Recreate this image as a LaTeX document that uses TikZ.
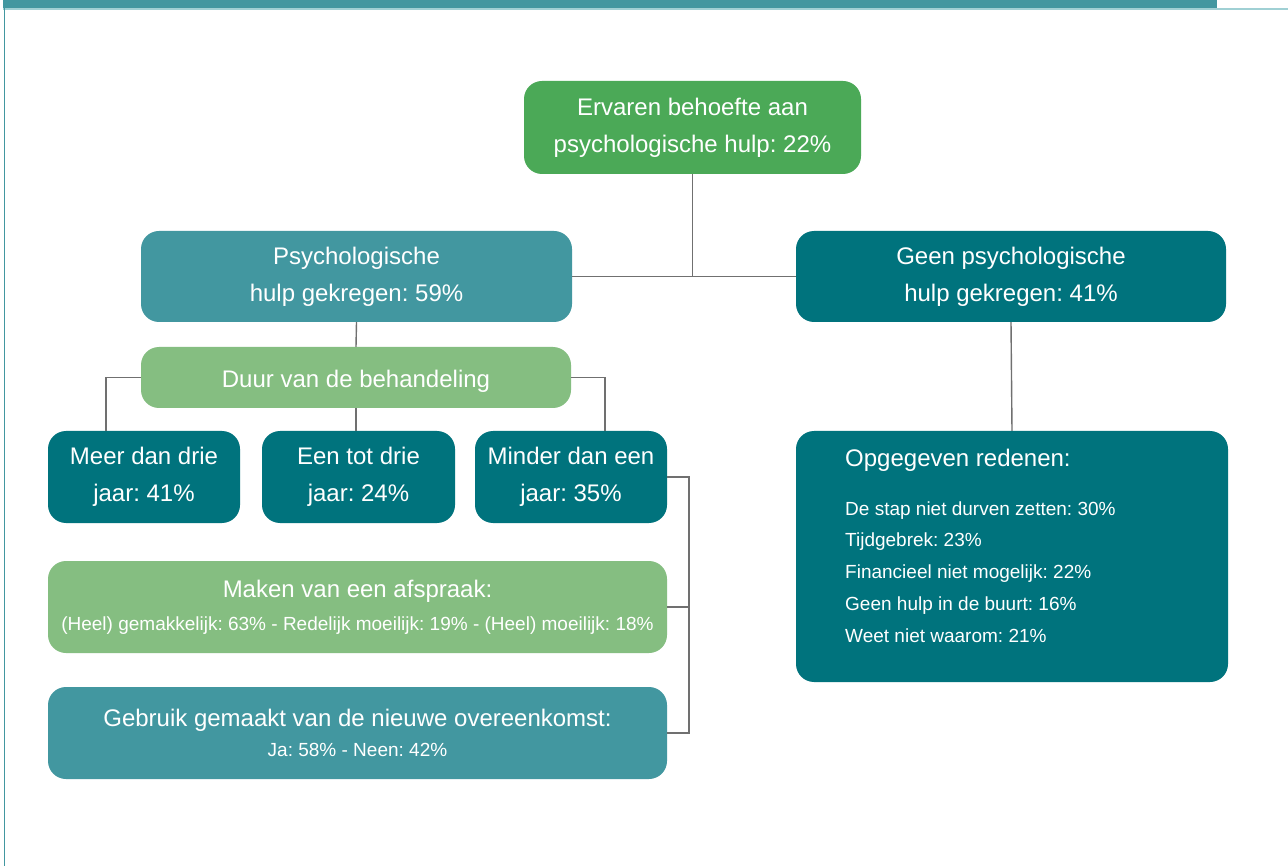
\documentclass[tikz,border=0pt]{standalone}
\usepackage{fontspec}
\setmainfont{Liberation Sans}
\frenchspacing
\usetikzlibrary{positioning,calc}
\definecolor{needgreen}{RGB}{75,169,87}
\definecolor{lightgreen}{RGB}{133,190,129}
\definecolor{midteal}{RGB}{66,151,160}
\definecolor{darkteal}{RGB}{0,115,125}
\definecolor{paleteal}{RGB}{160,208,212}
\definecolor{linkgray}{RGB}{112,112,112}
\newcommand{\bigtxt}{\fontsize{24}{37}\selectfont}
\newcommand{\smalltxt}{\fontsize{19}{31.75}\selectfont}

\begin{document}
\begin{tikzpicture}[x=1pt,y=-1pt,
	box/.style={rounded corners=18pt, text=white, align=center, inner sep=0pt, font=\bigtxt},
	tallbox/.style={box, execute at begin node={\rule{0pt}{24pt}}},
	link/.style={draw=linkgray, line width=1.4pt}]
	\useasboundingbox (0,0) rectangle (1288,866);
	\fill[white] (0,0) rectangle (1288,866);
	\fill[midteal] (3,0) rectangle (1217,8);
	\fill[paleteal] (3,8) rectangle (1288,10);
	\draw[midteal, line width=1pt] (4,8) -- (4,866);

	\node[tallbox, fill=needgreen, minimum width=337, minimum height=93] (need) at (692.5,127.5) {Ervaren behoefte aan\\psychologische hulp: 22\%};
	\node[tallbox, fill=midteal, minimum width=431, minimum height=91] (help) at (356.5,276.5) {Psychologische\\hulp gekregen: 59\%};
	\node[tallbox, fill=darkteal, minimum width=430, minimum height=91] (nohelp) at (1011,276.5) {Geen psychologische\\hulp gekregen: 41\%};
	\node[tallbox, fill=lightgreen, minimum width=430, minimum height=61] (duur) at (356,377.5) {Duur van de behandeling};
	\node[tallbox, fill=darkteal, minimum width=192, minimum height=92] (meer) at (144,477) {Meer dan drie\\jaar: 41\%};
	\node[tallbox, fill=darkteal, minimum width=193, minimum height=92] (eentot) at (358.5,477) {Een tot drie\\jaar: 24\%};
	\node[tallbox, fill=darkteal, minimum width=192, minimum height=92] (minder) at (571,477) {Minder dan een\\jaar: 35\%};
	\node[box, fill=lightgreen, minimum width=619, minimum height=92, font=\fontsize{24}{33}\selectfont] (afspraak) at (357.5,607) {Maken van een afspraak:\\{\smalltxt (Heel) gemakkelijk: 63\% - Redelijk moeilijk: 19\% - (Heel) moeilijk: 18\%}};
	\node[box, fill=midteal, minimum width=619, minimum height=92, font=\fontsize{24}{30}\selectfont] (overeenkomst) at (357.5,733) {Gebruik gemaakt van de nieuwe overeenkomst:\\{\smalltxt Ja: 58\% - Neen: 42\%}};
	\node[box, fill=darkteal, minimum width=432, minimum height=251] (redenen) at (1012,556.5) {};
	\node[text=white, font=\bigtxt, inner sep=0pt, anchor=base west] (redenen-title) at (845,467) {Opgegeven redenen:};
	\foreach \reason [count=\i] in {De stap niet durven zetten: 30\%, Tijdgebrek: 23\%, Financieel niet mogelijk: 22\%, Geen hulp in de buurt: 16\%, Weet niet waarom: 21\%}
		\node[text=white, font=\smalltxt, inner sep=0pt, anchor=base west] (reason-\i) at (845,{515+31.75*(\i-1)}) {\reason};

	\coordinate (bus) at (689,477);
	\draw[link] (need.south) -- (need.south |- help.east);
	\draw[link] (help.east) -- (nohelp.west);
	\draw[link] (help.south) -- (duur.north);
	\draw[link] (duur.west) -| ([xshift=-38pt]meer.north);
	\draw[link] (duur.south) -- (duur.south |- eentot.north);
	\draw[link] (duur.east) -| ([xshift=34pt]minder.north);
	\draw[link] (minder.east) -- (bus) |- (overeenkomst.east);
	\draw[link] (afspraak.east) -- (afspraak.east -| bus);
	\draw[link] (nohelp.south) -- (redenen.north);
\end{tikzpicture}
\end{document}
